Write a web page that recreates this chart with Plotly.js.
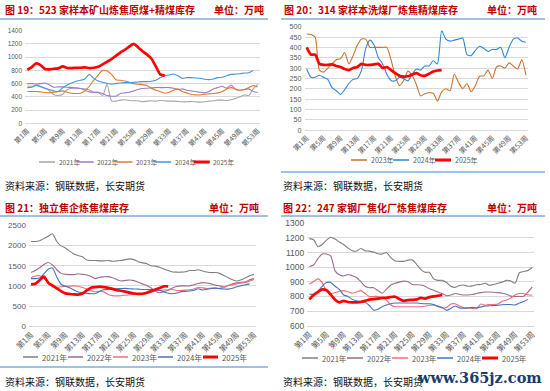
<!DOCTYPE html>
<html><head><meta charset="utf-8">
<script src="https://cdn.plot.ly/plotly-3.0.1.min.js"></script>
<style>html,body{margin:0;padding:0;background:#fff;}#chart{width:550px;height:391px;}</style>
</head><body><div id="chart"></div>
<script>
// ---------- tick labels ----------
const tickWeeks = [1,5,9,13,17,21,25,29,33,37,41,45,49,53];
const tickLabels = ['第1周','第5周','第9周','第13周','第17周','第21周','第25周','第29周','第33周','第37周','第41周','第45周','第49周','第53周'];

// ---------- 图19 ----------
const p1Names = ['2021年','2022年','2023年','2024年','2025年'];
const p1_2021 = [560,560,570,550,530,490,430,420,440,510, 530,530,525,520,505,470,465,420,590,340, 335,350,355,345,340,340,325,335,340,335, 345,340,335,335,330,325,325,330,325,320, 325,335,340,350,350,345,355,375,400,430, 420,520,590];
const p1_2022 = [600,600,595,600,610,580,545,550,550,545, 540,535,525,500,475,470,470,450,420,410, 410,450,460,470,490,510,525,530,535,540, 540,540,540,530,510,520,500,490,480,470, 460,480,520,540,560,530,580,510,500,510, 520,480,465];
const p1_2023 = [480,480,480,475,465,460,470,480,490,470, 455,450,455,490,560,650,730,800,790,740, 660,650,640,620,600,590,585,570,530,500, 480,455,470,500,520,480,460,440,430,430, 440,445,450,460,480,520,540,520,500,510, 540,570,550];
const p1_2024 = [540,545,580,555,530,510,490,480,540,580, 610,635,650,670,740,680,640,620,605,590, 600,610,615,615,620,625,630,630,635,650, 690,720,730,745,720,680,690,690,685,680, 665,660,670,690,695,720,740,745,750,760, 765,800];
const p1_2025 = [810,850,905,880,820,815,825,830,860,835, 835,838,840,845,835,840,855,890,930,970, 1020,1070,1110,1160,1200,1150,1090,1040,980,860, 740,720];

// ---------- 图20 ----------
const p2Names = ['2023年','2024年','2025年'];
const p2_2023 = [465,462,450,290,280,300,320,340,345,375, 320,360,410,440,440,400,400,400,400,400, 340,260,215,240,285,265,220,165,175,180, 178,140,185,200,190,270,230,200,225,185, 215,260,262,290,250,305,310,300,325,310, 295,340,265];
const p2_2024 = [295,255,255,265,255,245,205,190,172,195, 225,245,250,290,395,435,410,350,320,270, 240,238,255,248,238,270,295,290,310,310, 335,320,480,440,430,435,440,445,365,360, 385,405,395,380,390,390,400,350,400,440, 445,430,425];
const p2_2025 = [400,365,365,320,315,315,318,310,305,295, 290,300,305,320,315,315,318,320,300,305, 290,275,262,258,260,268,275,265,262,272, 283,288,290];

// ---------- 图21 ----------
const p3Names = ['2021年','2022年','2023年','2024年','2025年'];
const p3_2021 = [2100,2100,2120,2170,2230,2290,2100,1990,1940,1860, 1790,1750,1720,1640,1630,1630,1620,1620,1630,1610, 1620,1630,1650,1670,1650,1600,1570,1550,1500,1490, 1460,1420,1380,1345,1340,1340,1350,1380,1380,1400, 1370,1345,1330,1330,1310,1260,1200,1150,1120,1150, 1200,1250,1290];
const p3_2022 = [1330,1380,1450,1530,1580,1520,1400,1310,1285,1280, 1280,1300,1285,1270,1230,1180,1215,1225,1230,1200, 1160,1120,1135,1145,1130,1090,1050,1010,950,870, 830,860,900,950,985,1000,1000,1000,1030,1060, 1080,1070,1050,1020,1000,970,1010,1050,1075,1090, 1100,1150,1180];
const p3_2023 = [1200,1245,1250,1190,1080,980,965,978,988,995, 1000,992,960,920,878,855,868,852,790,760, 752,758,770,782,790,798,810,830,850,868, 888,898,902,910,885,888,895,905,925,960, 952,935,945,945,942,975,1010,1030,1050,1065, 1085,1120,1160];
const p3_2024 = [1180,1180,1195,1300,1410,1440,1220,1040,990,955, 900,850,832,815,805,810,870,905,915,925, 930,935,938,930,925,920,912,910,908,902, 890,850,820,805,822,858,865,872,890,930, 900,915,935,945,932,922,920,940,980,1005, 1030,1050];
const p3_2025 = [1040,1055,1140,1230,1080,1010,940,870,815,800, 790,785,810,890,955,970,980,970,950,925, 895,880,860,832,812,802,805,830,870,910, 950,990,990];

// ---------- 图22 ----------
const p4Names = ['2021年','2022年','2023年','2024年','2025年'];
const p4_2021 = [1195,1188,1140,1155,1185,1205,1192,1172,1155,1132, 1112,1110,1128,1112,1110,1103,1092,1090,1100,1065, 1042,1040,1040,1048,1050,1020,985,965,965,920, 910,910,895,870,862,875,878,870,872,880, 882,890,876,882,890,898,910,905,890,962, 970,978,998];
const p4_2022 = [1005,1015,1058,1090,1090,1075,975,948,940,950, 942,930,902,870,860,860,840,822,850,878, 890,898,905,900,882,880,878,870,852,842, 830,818,805,810,820,815,810,810,813,820, 826,830,830,829,826,822,815,802,800,800, 802,830,865];
const p4_2023 = [885,902,920,895,838,820,825,835,840,832, 822,830,840,820,800,800,800,792,775,742, 730,730,730,730,730,730,730,733,740,740, 732,722,725,748,750,735,722,720,718,716, 748,740,745,745,748,768,776,790,810,820, 818,812,808];
const p4_2024 = [815,815,835,870,895,895,870,848,810,800, 780,770,765,760,738,706,712,730,742,750, 755,755,755,755,755,755,752,750,750,745, 732,725,705,718,735,722,720,722,725,722, 728,735,736,738,740,743,745,745,742,755, 765,780];
const p4_2025 = [780,810,830,848,842,812,778,760,770,762, 760,760,762,770,778,782,785,790,790,796, 798,782,770,775,777,780,790,785,795,800, 805,810];

// ---------- styling (not data) ----------
const W = 550, H = 391;
const fx = p => p / W, fy = p => 1 - p / H;
const cjk = '"Noto Sans CJK SC", "Noto Sans", sans-serif';
const grey = '#595959';

const colA = ['#a6a6a6','#a07ad2','#e07a30','#3d98dd','#ff0000'];
const colB = ['#d0702a','#2f86d6','#ff0000'];
const colC = ['#7f7f7f','#9e6a8e','#ee6f78','#4472c4','#ff0000'];

const panels = [
  {names:p1Names, data:[p1_2021,p1_2022,p1_2023,p1_2024,p1_2025], colors:colA,
   box:{l:25.1,r:259.9,t:30.7,b:123.3}, yr:[0,1400], dt:200, ytf:6.5, xtf:7,
   leg:{y:162, x0:39, step:38.7, len:16, font:6.5},
   title:'图 19：523 家样本矿山炼焦原煤+精煤库存', tx:3, ux:266, ty:10, sx:3, sy:185},
  {names:p2Names, data:[p2_2023,p2_2024,p2_2025], colors:colB,
   box:{l:304.6,r:528.1,t:26.7,b:130}, yr:[0,500], dt:50, ytf:7.2, xtf:7.2,
   leg:{y:160, x0:351, step:42, len:16, font:7},
   title:'图 20：314 家样本洗煤厂炼焦精煤库存', tx:282, ux:539, ty:10, sx:281, sy:185},
  {names:p3Names, data:[p3_2021,p3_2022,p3_2023,p3_2024,p3_2025], colors:colC,
   box:{l:28.9,r:256.1,t:225.3,b:326.3}, yr:[0,2500], dt:500, ytf:8, xtf:7.8,
   leg:{y:357, x0:23, step:45, len:15, font:7.8},
   title:'图 21：独立焦企炼焦煤库存', tx:3, ux:261, ty:207, sx:3, sy:381},
  {names:p4Names, data:[p4_2021,p4_2022,p4_2023,p4_2024,p4_2025], colors:colC,
   box:{l:307.2,r:534.4,t:223.3,b:325.7}, yr:[600,1300], dt:100, ytf:8.5, xtf:8,
   leg:{y:358, x0:302, step:45, len:16, font:7.6},
   title:'图 22：247 家钢厂焦化厂炼焦煤库存', tx:281, ux:539, ty:207, sx:281, sy:381}
];

const traces = [];
const layout = {
  width: W, height: H, autosize: false,
  margin: {l:0, r:0, t:0, b:0},
  paper_bgcolor: '#fff', plot_bgcolor: '#fff',
  showlegend: false,
  font: {family: cjk, color: grey},
  annotations: [], shapes: []
};

panels.forEach((p, i) => {
  const sfx = i === 0 ? '' : String(i + 1);
  const xr = 'x' + sfx, yr = 'y' + sfx;
  p.data.forEach((vals, k) => {
    const isRed = p.colors[k] === '#ff0000';
    traces.push({
      type: 'scatter', mode: 'lines', name: p.names[k],
      x: vals.map((_, j) => j + 1), y: vals,
      xaxis: xr, yaxis: yr,
      line: {color: p.colors[k], width: isRed ? 2.7 : 1.1, shape: 'spline', smoothing: 0.6},
      hoverinfo: 'skip'
    });
  });
  layout['xaxis' + sfx] = {
    domain: [fx(p.box.l), fx(p.box.r)], anchor: yr, range: [0.5, 53.5],
    tickmode: 'array', tickvals: tickWeeks, ticktext: tickLabels, tickangle: -45,
    tickfont: {size: p.xtf, color: grey, family: cjk},
    showgrid: false, zeroline: false, showline: true, linecolor: '#d9d9d9', linewidth: 1,
    ticks: '', fixedrange: true
  };
  layout['yaxis' + sfx] = {
    domain: [fy(p.box.b), fy(p.box.t)], anchor: xr, range: p.yr, dtick: p.dt, tick0: p.yr[0],
    tickfont: {size: p.ytf, color: grey, family: 'Liberation Sans, Arial, sans-serif'},
    showgrid: true, gridcolor: '#d9d9d9', gridwidth: 1, zeroline: false, showline: false,
    ticks: '', fixedrange: true, ticklabelstandoff: 2
  };
  // titles
  layout.annotations.push({xref:'paper', yref:'paper', x: fx(p.tx), y: fy(p.ty), xanchor:'left', yanchor:'middle',
    text: '<b>' + p.title + '</b>', showarrow:false, font:{size:10, color:'#c00000', family:cjk}});
  layout.annotations.push({xref:'paper', yref:'paper', x: fx(p.ux), y: fy(p.ty), xanchor:'right', yanchor:'middle',
    text: '<b>单位：万吨</b>', showarrow:false, font:{size:10, color:'#c00000', family:cjk}});
  // source
  layout.annotations.push({xref:'paper', yref:'paper', x: fx(p.sx), y: fy(p.sy), xanchor:'left', yanchor:'middle',
    text: '资料来源：钢联数据，长安期货', showarrow:false, font:{size:10, color:'#111', family:cjk}});
  // manual legend
  p.names.forEach((nm, k) => {
    const x0 = p.leg.x0 + k * p.leg.step;
    const isRed = p.colors[k] === '#ff0000';
    layout.shapes.push({type:'line', xref:'paper', yref:'paper', x0: fx(x0), x1: fx(x0 + p.leg.len),
      y0: fy(p.leg.y), y1: fy(p.leg.y), line:{color:p.colors[k], width: isRed ? 3 : 1.5}});
    layout.annotations.push({xref:'paper', yref:'paper', x: fx(x0 + p.leg.len + 1.5), y: fy(p.leg.y),
      xanchor:'left', yanchor:'middle', text: nm, showarrow:false,
      font:{size:p.leg.font, color:grey, family:cjk}});
  });
});

// decorative separator lines
const sep = [[0,268,19],[281,545,19],[281,545,172],[0,268,216],[281,545,216],[0,268,367]];
sep.forEach(s => layout.shapes.push({type:'line', xref:'paper', yref:'paper',
  x0: fx(s[0]), x1: fx(s[1]), y0: fy(s[2]), y1: fy(s[2]), line:{color:'#9cc2e5', width:1.8}}));

// watermark
layout.annotations.push({xref:'paper', yref:'paper', x: fx(544), y: fy(377), xanchor:'right', yanchor:'middle',
  text:'<b>www.365jz.com</b>', showarrow:false, font:{size:14.5, color:'#1b3a70', family:'DejaVu Serif, serif'}});

Plotly.newPlot('chart', traces, layout, {staticPlot:true, displayModeBar:false});
</script></body></html>
